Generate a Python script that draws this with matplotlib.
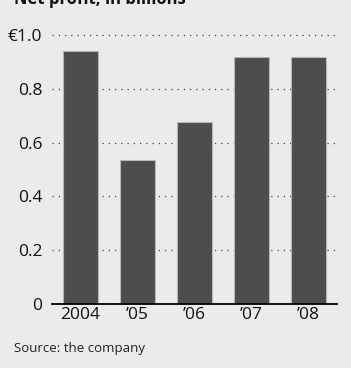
import matplotlib.pyplot as plt

years = ['2004', '\u201905', '\u201906', '\u201907', '\u201908']
profit = [0.94, 0.535, 0.677, 0.92, 0.92]
yticks = [0, 0.2, 0.4, 0.6, 0.8, 1.0]
ylabels = ['0', '0.2', '0.4', '0.6', '0.8', '\u20ac1.0']

plt.rcParams['font.family'] = ['Open Sans', 'DejaVu Sans']
bg = '#ebebeb'

fig = plt.figure(figsize=(3.51, 3.68), dpi=100, facecolor=bg)
ax = fig.add_axes([52/351, 1 - 304/368, (337-52)/351, (304-35)/368])
ax.set_facecolor(bg)

x = range(len(years))
ax.bar(x, profit, width=0.63, color='#4d4d4d', edgecolor='#b8b8b8', linewidth=0.8, zorder=2)

ax.set_xlim(-0.5, 4.5)
ax.set_ylim(0, 1.0)
ax.set_yticks(yticks)
ax.set_yticklabels(ylabels)
ax.set_xticks(list(x))
ax.set_xticklabels(years)
for t in yticks[1:]:
    ax.axhline(t, color='#444444', linestyle=(0, (1, 4)), linewidth=0.9, zorder=1, clip_on=False)

for s in ['top', 'right', 'left']:
    ax.spines[s].set_visible(False)
ax.spines['bottom'].set_linewidth(1.3)
ax.spines['bottom'].set_zorder(3)
ax.tick_params(axis='both', length=0, labelsize=12.5, colors='#111111')
ax.tick_params(axis='y', pad=7)
ax.tick_params(axis='x', pad=2)

fig.text(14/351, 1 - 4/368, 'Net profit, in billions', fontsize=12, fontweight='bold',
         va='baseline', ha='left', color='#111111')
fig.text(14/351, 1 - 352/368, 'Source: the company', fontsize=9.5, va='baseline',
         ha='left', color='#222222')

fig.savefig('out.png', dpi=100, facecolor=bg)
